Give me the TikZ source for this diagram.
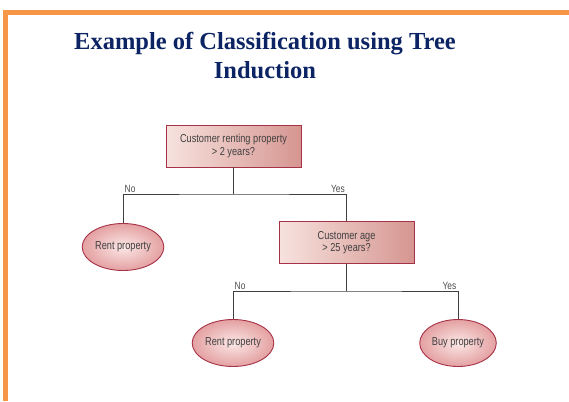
\documentclass[tikz,border=0pt]{standalone}
\usepackage{fontspec}
\setmainfont{Liberation Serif}
\newfontfamily\boxfont[FakeStretch=0.8]{Liberation Sans}
\usetikzlibrary{positioning}
\usetikzlibrary{shapes.geometric, arrows}

\definecolor{framecol}{RGB}{247,150,70}
\definecolor{titlecol}{RGB}{12,36,100}
\definecolor{edgecol}{RGB}{165,50,70}
\definecolor{boxlight}{RGB}{247,226,222}
\definecolor{boxdark}{RGB}{214,150,145}
\definecolor{leaflight}{RGB}{251,232,230}
\definecolor{leafdark}{RGB}{228,160,162}

\begin{document}
\begin{tikzpicture}[x=1pt,y=-1pt,
    question/.style={rectangle, draw=edgecol, line width=0.8pt,
        left color=boxlight, right color=boxdark,
        minimum width=135pt, minimum height=42pt, align=center,
        font=\boxfont\fontsize{11.5}{12.5}\selectfont, text=black!75},
    outcome/.style={ellipse, draw=edgecol, line width=0.9pt,
        inner color=leaflight, outer color=leafdark,
        minimum width=72pt, minimum height=47pt, inner sep=1pt,
        font=\boxfont\fontsize{11.5}{12.5}\selectfont, text=black!75},
    answer/.style={font=\boxfont\fontsize{10.5}{12}\selectfont,
        text=black!70, inner sep=1.5pt},
    link/.style={draw=black!75, line width=0.7pt}]
    \useasboundingbox (0,0) rectangle (569,401);
    % frame
    \fill[framecol] (3,10) rectangle (569,15);
    \fill[framecol] (3,10) rectangle (8,401);
    % title
    \node[font=\bfseries\fontsize{24.5}{29}\selectfont, text=titlecol, align=center]
        (title) at (265,56) {Example of Classification using Tree\\Induction};
    % tree
    \node[question] (rentq) at (233.5,146) {Customer renting property\\> 2 years?};
    \node[outcome] (rent1) at (123,247) {Rent property};
    \node[question] (ageq) at (346.5,242.5) {Customer age\\> 25 years?};
    \node[outcome] (rent2) at (233,343) {Rent property};
    \node[outcome] (buy) at (458,343) {Buy property};
    \coordinate (j1) at (233.5,194);
    \coordinate (j2) at (346.5,291);
    \draw[link] (rentq) -- (j1);
    \draw[link] (rent1) |- (j1) -| (ageq);
    \draw[link] (ageq) -- (j2);
    \draw[link] (rent2) |- (j2) -| (buy);
    \node[answer, above right] (no1) at (rent1 |- j1) {No};
    \node[answer, above left] (yes1) at (ageq |- j1) {Yes};
    \node[answer, above right] (no2) at (rent2 |- j2) {No};
    \node[answer, above left] (yes2) at (buy |- j2) {Yes};
\end{tikzpicture}
\end{document}
